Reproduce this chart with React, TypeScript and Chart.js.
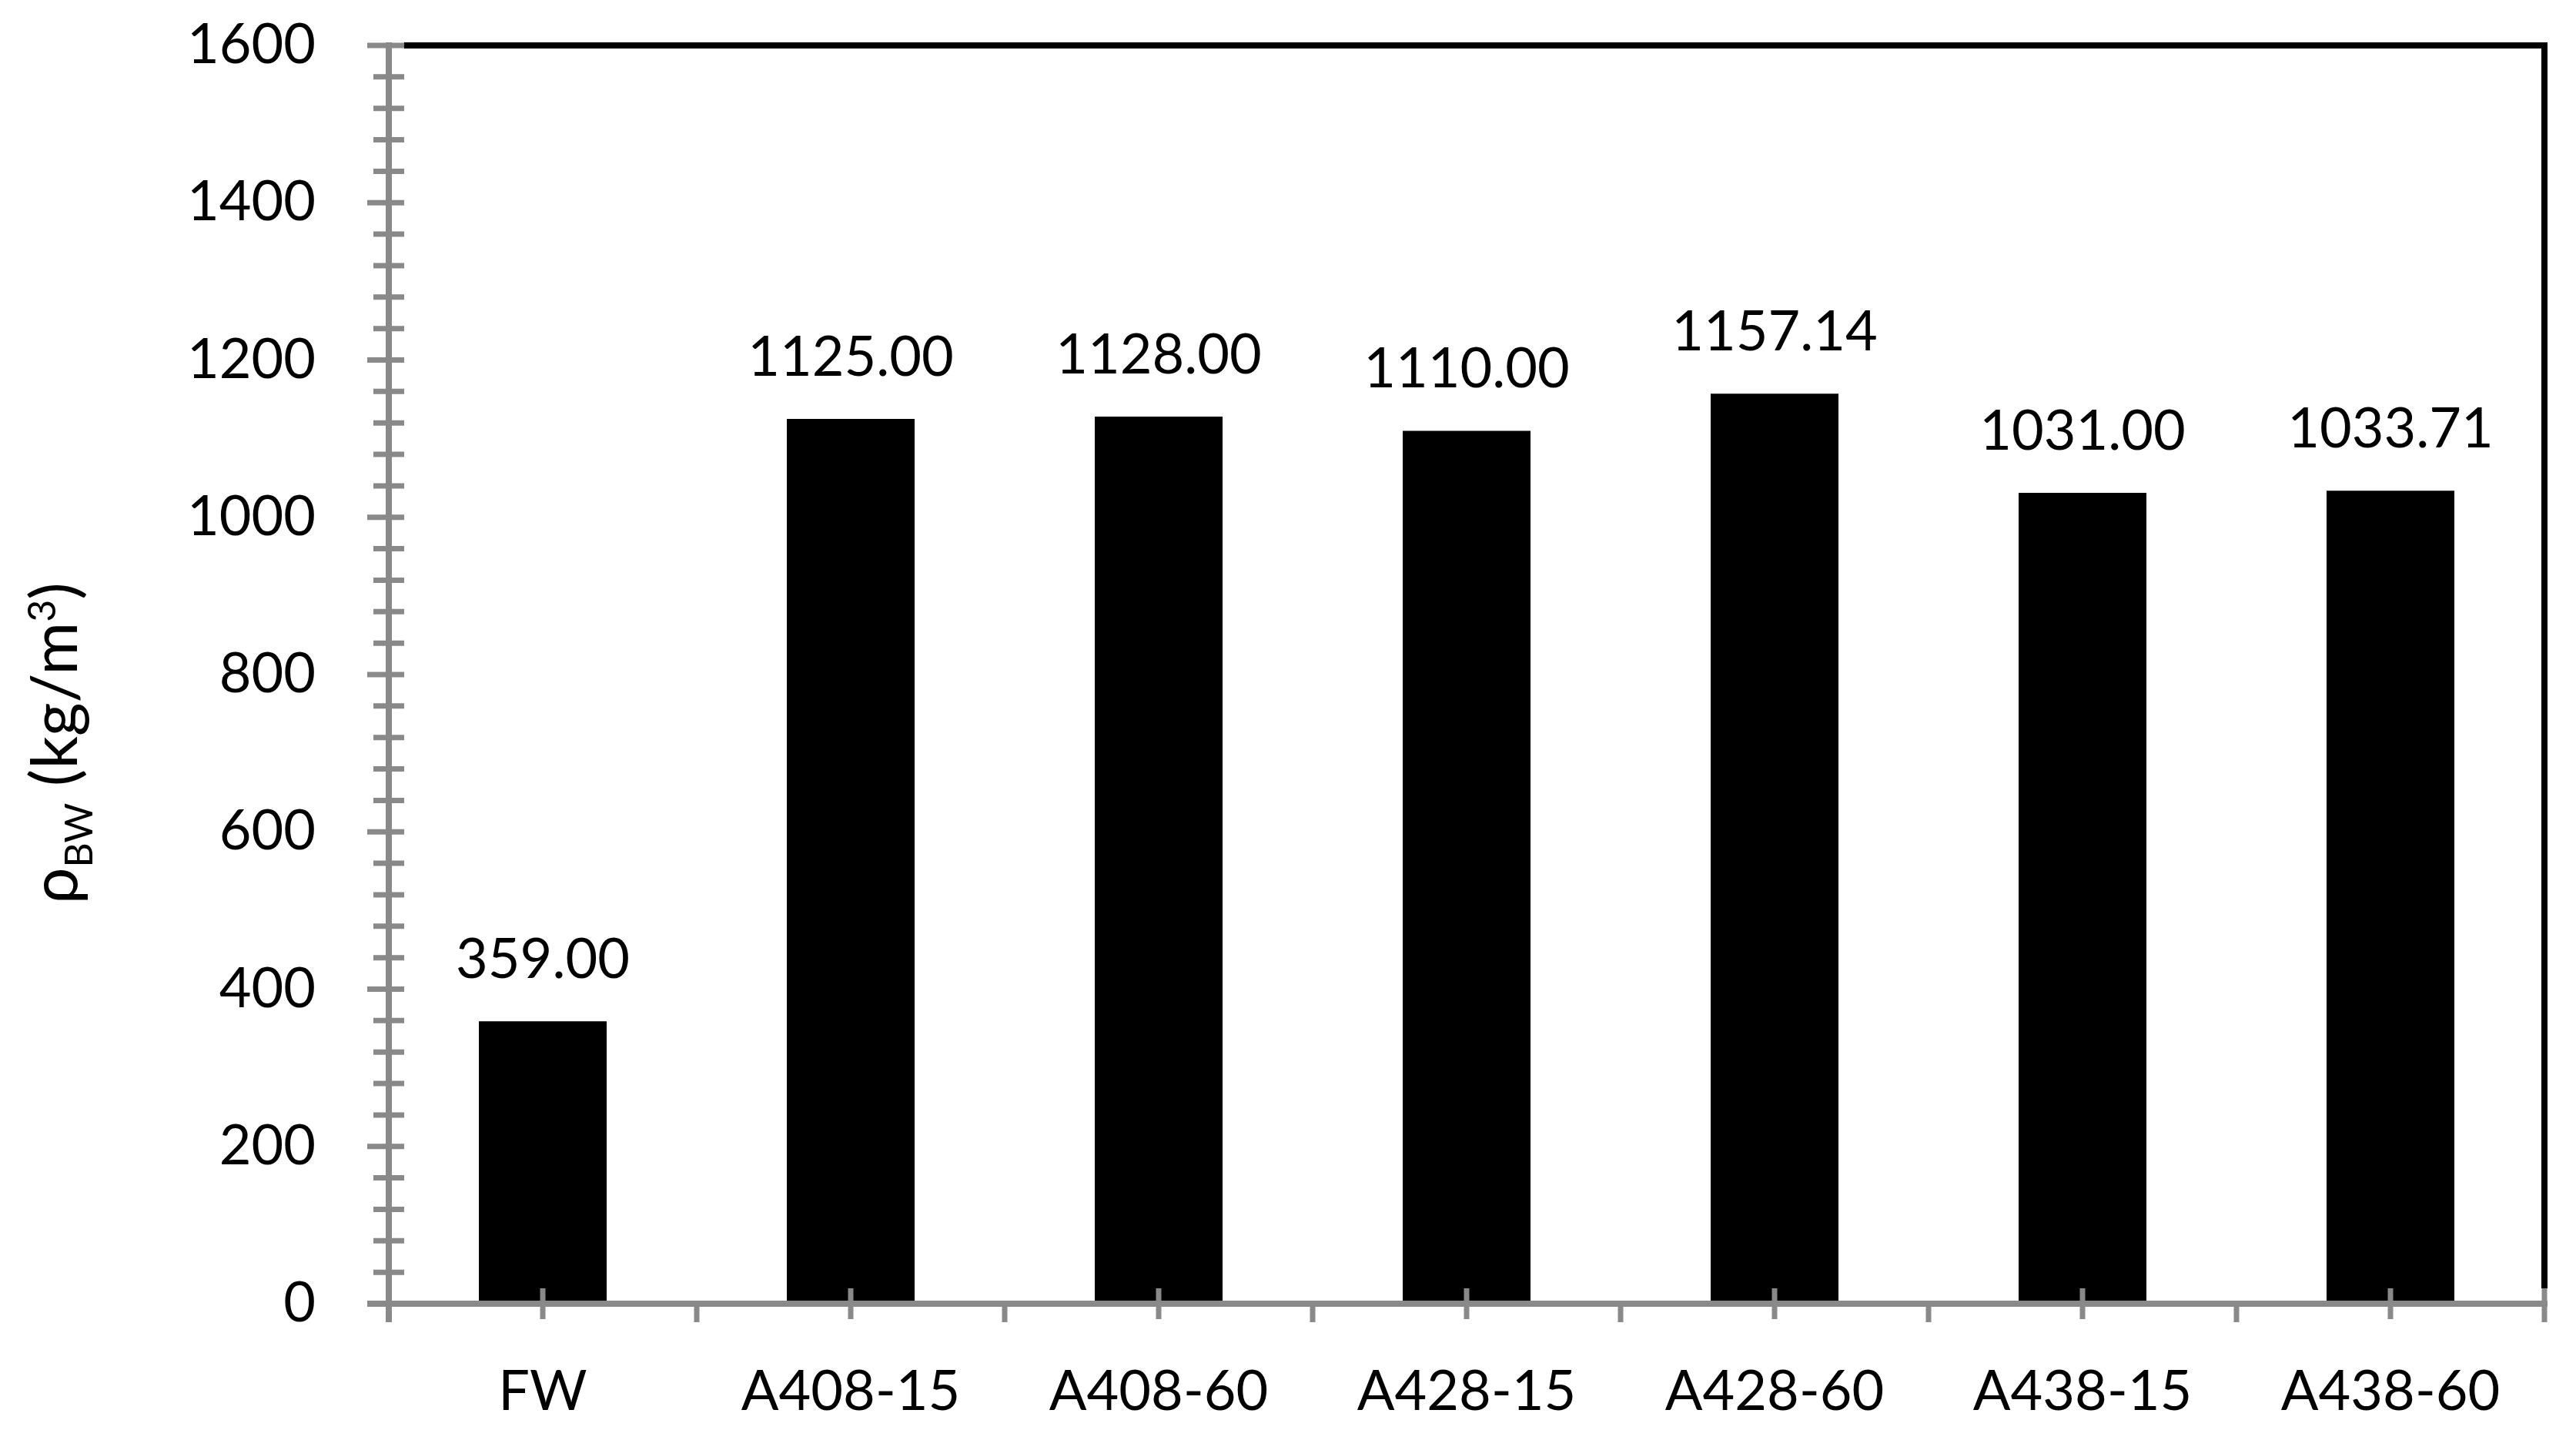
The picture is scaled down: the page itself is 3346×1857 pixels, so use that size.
import React, { useEffect, useRef } from 'react';
import { Chart, registerables } from 'chart.js';

Chart.register(...registerables);

const categories = ['FW', 'A408-15', 'A408-60', 'A428-15', 'A428-60', 'A438-15', 'A438-60'];
const densityValues = [359.0, 1125.0, 1128.0, 1110.0, 1157.14, 1031.0, 1033.71];
const yMin = 0;
const yMax = 1600;
const yMajorStep = 200;
const yMinorStep = 40;
const titleParts = { main: 'ρ', sub: 'BW', mid: ' (kg/m', sup: '3', end: ')' };

const FONT = 'Lato';
const AXIS_GRAY = '#898989';

const decorPlugin = {
  id: 'decor',
  afterDraw(chart: any) {
    const ctx = chart.ctx;
    const { left, right, top, bottom } = chart.chartArea;
    const ys = chart.scales.y;
    const xs = chart.scales.x;
    ctx.save();
    ctx.lineCap = 'butt';
    ctx.lineJoin = 'miter';

    // black frame (top + right)
    ctx.strokeStyle = '#000';
    ctx.lineWidth = 8;
    ctx.beginPath();
    ctx.moveTo(left + 20, top);
    ctx.lineTo(right, top);
    ctx.lineTo(right, bottom - 20);
    ctx.stroke();

    // gray axes
    ctx.strokeStyle = AXIS_GRAY;
    ctx.lineWidth = 8;
    ctx.beginPath();
    ctx.moveTo(left, top - 4);
    ctx.lineTo(left, bottom + 24);
    ctx.stroke();
    ctx.beginPath();
    ctx.moveTo(left - 28, bottom);
    ctx.lineTo(right + 4, bottom);
    ctx.stroke();

    // y ticks
    ctx.lineWidth = 7;
    for (let v = yMin; v <= yMax + 1e-9; v += yMinorStep) {
      const py = ys.getPixelForValue(v);
      const major = Math.abs(v % yMajorStep) < 1e-9;
      ctx.beginPath();
      ctx.moveTo(left - (major ? 28 : 20), py);
      ctx.lineTo(left + 20, py);
      ctx.stroke();
    }

    // x ticks
    const n = categories.length;
    for (let i = 0; i < n; i++) {
      const px = xs.getPixelForValue(i);
      ctx.beginPath();
      ctx.moveTo(px, bottom - 20);
      ctx.lineTo(px, bottom + 20);
      ctx.stroke();
    }
    for (let i = 0; i <= n; i++) {
      const px = xs.getPixelForValue(i - 0.5);
      ctx.beginPath();
      ctx.moveTo(px, i === n ? bottom - 20 : bottom);
      ctx.lineTo(px, bottom + 24);
      ctx.stroke();
    }

    // data labels
    const meta = chart.getDatasetMeta(0);
    ctx.fillStyle = '#000';
    ctx.font = `72px ${FONT}`;
    ctx.textAlign = 'center';
    ctx.textBaseline = 'alphabetic';
    meta.data.forEach((bar: any, i: number) => {
      ctx.fillText(densityValues[i].toFixed(2), bar.x, bar.y - 56);
    });

    // y axis title
    const big = `84px ${FONT}`;
    const small = `50px ${FONT}`;
    const pieces = [
      { t: titleParts.main, f: big, dy: 0 },
      { t: titleParts.sub, f: small, dy: 20 },
      { t: titleParts.mid, f: big, dy: 0 },
      { t: titleParts.sup, f: small, dy: -28 },
      { t: titleParts.end, f: big, dy: 0 },
    ];
    let total = 0;
    const widths = pieces.map((p) => {
      ctx.font = p.f;
      const w = ctx.measureText(p.t).width;
      total += w;
      return w;
    });
    ctx.translate(100, 965);
    ctx.rotate(-Math.PI / 2);
    ctx.textAlign = 'left';
    let x = -total / 2;
    pieces.forEach((p, i) => {
      ctx.font = p.f;
      ctx.fillText(p.t, x, p.dy);
      x += widths[i];
    });
    ctx.restore();
  },
};

export default function App() {
  const ref = useRef<HTMLCanvasElement | null>(null);
  useEffect(() => {
    if (!ref.current) return;
    Chart.defaults.font.family = FONT;
    const chart = new Chart(ref.current, {
      type: 'bar',
      data: {
        labels: categories,
        datasets: [
          {
            data: densityValues,
            backgroundColor: '#000',
            borderWidth: 0,
            barPercentage: 1,
            categoryPercentage: 0.415,
          },
        ],
      },
      options: {
        animation: false,
        responsive: false,
        devicePixelRatio: 1,
        layout: { padding: { top: 59, right: 41, left: 0, bottom: 0 } },
        plugins: { legend: { display: false }, tooltip: { enabled: false } },
        scales: {
          x: {
            grid: { display: false, drawTicks: false, tickLength: 0 },
            border: { display: false },
            ticks: { color: '#000', font: { size: 72, family: FONT }, padding: 72, maxRotation: 0, autoSkip: false },
            afterFit: (s: any) => {
              s.height = 164;
              s.paddingLeft = 0;
              s.paddingRight = 0;
            },
          },
          y: {
            min: yMin,
            max: yMax,
            grid: { display: false, drawTicks: false, tickLength: 0 },
            border: { display: false },
            ticks: {
              stepSize: yMajorStep,
              color: '#000',
              font: { size: 72, family: FONT },
              padding: 95,
              callback: (v: any) => String(v),
            },
            afterFit: (s: any) => {
              s.width = 505;
              s.paddingTop = 0;
              s.paddingBottom = 0;
            },
          },
        },
      },
      plugins: [decorPlugin],
    });
    return () => chart.destroy();
  }, []);
  return (
    <div style={{ position: 'fixed', left: 0, top: 0, width: 3346, height: 1857, background: '#fff' }}>
      <canvas ref={ref} width={3346} height={1857} style={{ display: 'block' }} />
    </div>
  );
}
